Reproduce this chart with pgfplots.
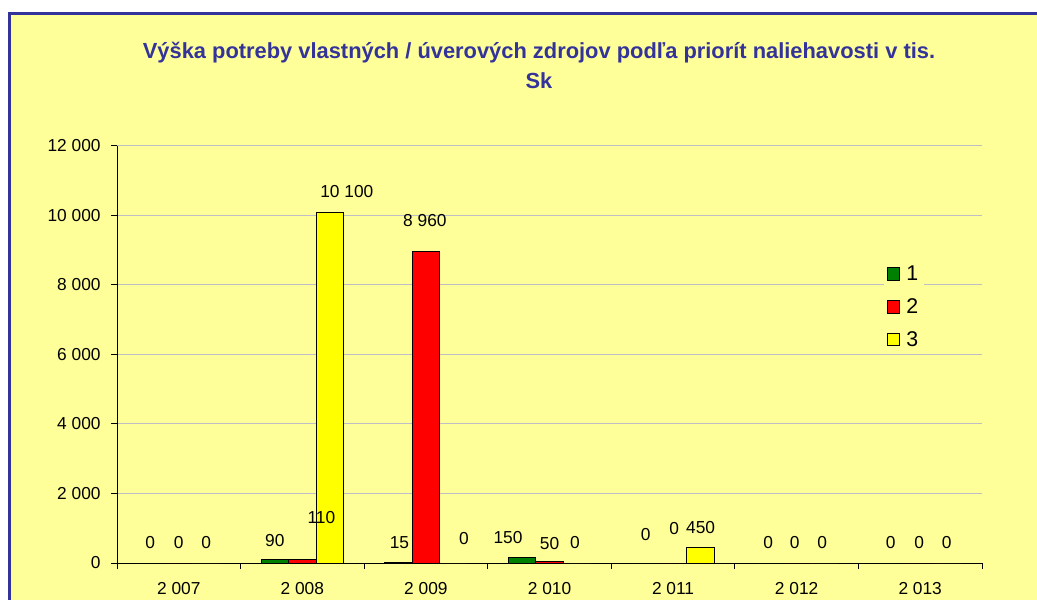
\documentclass[border=0pt]{standalone}
\usepackage{fontspec}
\setmainfont{Liberation Sans}
\usepackage{pgfplots}
\usepackage{pgfplotstable}
\pgfplotsset{compat=1.18}
\definecolor{bgy}{HTML}{FFFF99}
\definecolor{tblue}{HTML}{333399}
\definecolor{sgreen}{HTML}{008000}
\definecolor{sred}{HTML}{FF0000}
\definecolor{syellow}{HTML}{FFFF00}
\definecolor{gridc}{RGB}{190,190,198}

% x = category index, y = value, dx/dy = label offset (px) from bar top centre
\pgfplotstableread{
x y dx dy
0 0 -1 20
1 90 0 19
2 15 1 19.5
3 150 -14 20
4 0 0 28
5 0 -1 20
6 0 -2 20
}\tA
\pgfplotstableread{
x y dx dy
0 0 0 20
1 110 19 42
2 8960 -1 31.6
3 50 0 18
4 0 1 34
5 0 -2 20
6 0 -1 20
}\tB
\pgfplotstableread{
x y dx dy
0 0 0 20
1 10100 17 20
2 0 10.5 24
3 0 -2 20
4 450 0 19.4
5 0 -2 20
6 0 -1 20
}\tC

\pgfplotsset{
  lbl/.style={draw=none, mark=none, forget plot, point meta=explicit, nodes near coords,
    every node near coord/.append style={anchor=center, inner sep=0pt, text=black,
      font=\fontsize{13}{15}\selectfont}},
}

\begin{document}
\begin{tikzpicture}[x=0.75pt,y=0.75pt]
\begin{scope}
\clip (0,0) rectangle (1037,599);
\fill[white] (0,0) rectangle (1037,599);
\fill[bgy] (9.5,-10) rectangle (1050,585.3);
\draw[tblue, line width=2.25pt] (9.5,-10) -- (9.5,585.3) -- (1050,585.3);
\node[anchor=base, text=tblue, font=\bfseries\fontsize{16.4}{20}\selectfont, inner sep=0pt] at (539,540.7) {Výška potreby vlastných / úverových zdrojov podľa priorít naliehavosti v tis.};
\node[anchor=base, text=tblue, font=\bfseries\fontsize{16.4}{20}\selectfont, inner sep=0pt] at (539,510.7) {Sk};
\begin{axis}[
  at={(87.75pt,27pt)}, anchor=south west,
  scale only axis, width=648.75pt, height=312.75pt,
  xmin=-0.5, xmax=6.5, ymin=0, ymax=12000,
  axis x line*=bottom, axis y line*=left,
  axis line style={-, black, line width=0.75pt},
  tick align=outside, major tick length=4.5pt,
  tick style={black, line width=0.75pt},
  xtick={-0.5,0.5,...,6.5}, x tick label as interval,
  xticklabels={2 007,2 008,2 009,2 010,2 011,2 012,2 013},
  ytick={0,2000,...,12000}, scaled y ticks=false,
  yticklabels={0,2 000,4 000,6 000,8 000,10 000,12 000},
  ticklabel style={font=\fontsize{13}{15}\selectfont, text=black},
  xticklabel style={yshift=-6.5pt},
  yticklabel style={xshift=-4.25pt},
  ymajorgrids, grid style={gridc, line width=0.75pt},
  /pgf/number format/.cd, assume math mode=true, 1000 sep={\ }, /pgfplots/.cd,
  legend style={at={(0.8864,0.7266)}, anchor=north west, draw=none, fill=bgy,
    font=\fontsize{16}{19}\selectfont, row sep=8pt, inner xsep=2pt, inner ysep=2pt,
    nodes={inner sep=2pt},
    /tikz/every odd column/.append style={column sep=2.5pt}},
  legend cell align=left,
]
\addplot[ybar, bar width=20.625pt, bar shift=-20.625pt, fill=sgreen, draw=black, line width=0.75pt,
  legend image code/.code={\draw[fill=sgreen, draw=black, line width=0.75pt] (0pt,-4.75pt) rectangle (9.5pt,4.75pt);}]
  table[x=x,y=y]{\tA};
\addlegendentry{1}
\addplot[ybar, bar width=20.625pt, bar shift=0pt, fill=sred, draw=black, line width=0.75pt,
  legend image code/.code={\draw[fill=sred, draw=black, line width=0.75pt] (0pt,-4.75pt) rectangle (9.5pt,4.75pt);}]
  table[x=x,y=y]{\tB};
\addlegendentry{2}
\addplot[ybar, bar width=20.625pt, bar shift=20.625pt, fill=syellow, draw=black, line width=0.75pt,
  legend image code/.code={\draw[fill=syellow, draw=black, line width=0.75pt] (0pt,-4.75pt) rectangle (9.5pt,4.75pt);}]
  table[x=x,y=y]{\tC};
\addlegendentry{3}
% data labels (value printed), placed dx/dy px from each bar's top centre
\addplot[lbl] table[x expr=\thisrow{x}+(\thisrow{dx}-27.5)/123.571, y expr=\thisrow{y}+\thisrow{dy}*28.777, meta=y]{\tA};
\addplot[lbl] table[x expr=\thisrow{x}+(\thisrow{dx})/123.571, y expr=\thisrow{y}+\thisrow{dy}*28.777, meta=y]{\tB};
\addplot[lbl] table[x expr=\thisrow{x}+(\thisrow{dx}+27.5)/123.571, y expr=\thisrow{y}+\thisrow{dy}*28.777, meta=y]{\tC};
\end{axis}
\end{scope}
\pgfresetboundingbox
\path[use as bounding box] (0,0) rectangle (1037,599);
\end{tikzpicture}
\end{document}
